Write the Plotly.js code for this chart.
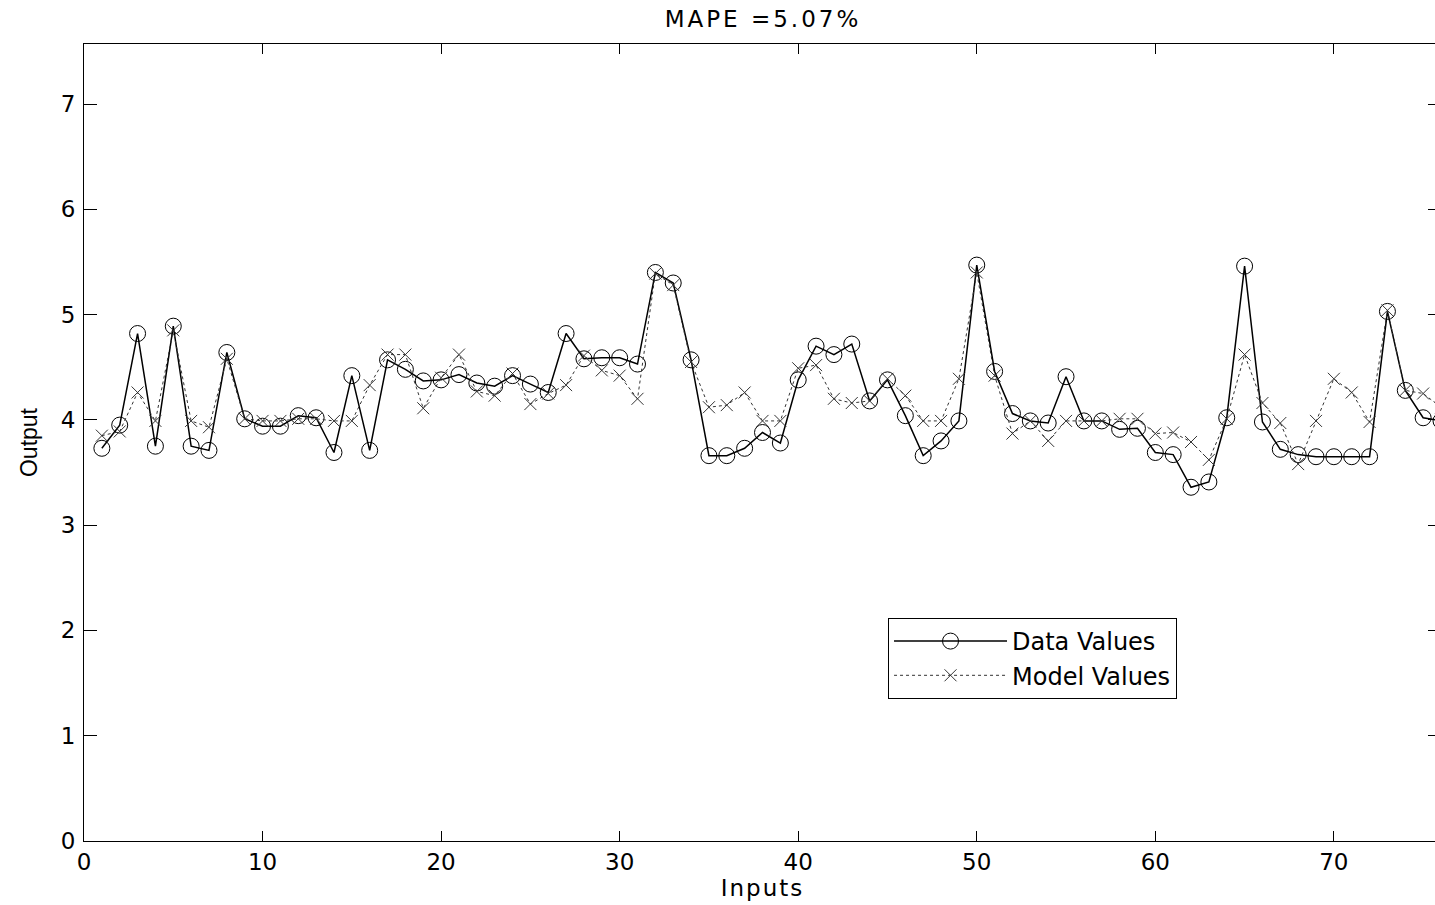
<!DOCTYPE html>
<html>
<head>
<meta charset="utf-8">
<script src="https://cdn.plot.ly/plotly-3.0.1.min.js"></script>
<style>
html,body{margin:0;padding:0;overflow:hidden;background:#fff;}
#chart{width:1445px;height:905px;}
#chart .gtitle{letter-spacing:3px;}
#chart .xtitle{letter-spacing:2px;}
</style>
</head>
<body>
<div id="chart"></div>
<script>
var inputs = [1,2,3,4,5,6,7,8,9,10,11,12,13,14,15,16,17,18,19,20,21,22,23,24,25,26,27,28,29,30,31,32,33,34,35,36,37,38,39,40,41,42,43,44,45,46,47,48,49,50,51,52,53,54,55,56,57,58,59,60,61,62,63,64,65,66,67,68,69,70,71,72,73,74,75,76];
var dataValues = [3.73,3.95,4.82,3.75,4.89,3.75,3.71,4.64,4.01,3.94,3.94,4.04,4.02,3.69,4.42,3.71,4.57,4.48,4.37,4.38,4.43,4.35,4.32,4.42,4.34,4.26,4.82,4.58,4.59,4.59,4.53,5.40,5.30,4.57,3.66,3.66,3.73,3.88,3.78,4.38,4.70,4.62,4.72,4.18,4.38,4.04,3.66,3.80,3.99,5.47,4.46,4.06,3.99,3.97,4.41,3.99,3.99,3.91,3.92,3.69,3.67,3.36,3.41,4.02,5.46,3.98,3.72,3.67,3.65,3.65,3.65,3.65,5.03,4.28,4.02,3.99];
var modelValues = [3.85,3.89,4.26,3.99,4.85,3.99,3.93,4.58,4.01,3.99,3.99,4.01,4.01,3.99,3.99,4.33,4.62,4.62,4.11,4.40,4.62,4.27,4.23,4.44,4.15,4.25,4.33,4.61,4.47,4.42,4.20,5.39,5.28,4.55,4.12,4.14,4.26,3.99,3.99,4.49,4.52,4.20,4.16,4.18,4.39,4.23,3.99,3.99,4.39,5.40,4.42,3.87,3.99,3.80,3.99,3.99,3.99,4.01,4.01,3.87,3.88,3.79,3.62,4.01,4.62,4.16,3.97,3.58,3.99,4.39,4.26,3.98,5.04,4.28,4.25,4.12];
var xTicks = [0,10,20,30,40,50,60,70];
var yTicks = [0,1,2,3,4,5,6,7];
var chartTitle = 'MAPE =5.07%';
var xTitle = 'Inputs';
var yTitle = 'Output';

var FONT = 'DejaVu Sans, Liberation Sans, Arial, sans-serif';
var FONT2 = 'Liberation Sans, Arial, sans-serif';

var traces = [
  {
    x: inputs, y: dataValues, name: 'Data Values', type: 'scatter', mode: 'lines+markers',
    line: {color: '#000', width: 1.5},
    marker: {symbol: 'circle-open', size: 16, color: '#000', line: {color: '#000', width: 1}},
    cliponaxis: true
  },
  {
    x: inputs, y: modelValues, name: 'Model Values', type: 'scatter', mode: 'lines+markers',
    line: {color: '#333', width: 1, dash: 'dot'},
    marker: {symbol: 'x-thin-open', size: 12, color: '#333', line: {color: '#333', width: 1}},
    cliponaxis: true
  }
];

var layout = {
  width: 1445, height: 905,
  margin: {l: 84, r: 4, t: 44, b: 64},
  paper_bgcolor: '#fff', plot_bgcolor: '#fff',
  font: {family: FONT, size: 23, color: '#000'},
  showlegend: true,
  title: {text: chartTitle, font: {family: FONT, size: 23, color: '#000'}, x: 0.528, xanchor: 'center', y: 0.979, yanchor: 'middle', xref: 'container', yref: 'container'},
  xaxis: {
    range: [0, 76], tickvals: xTicks, ticktext: xTicks.map(String),
    ticks: 'inside', ticklen: 10, tickwidth: 1, tickcolor: '#000',
    showline: true, linecolor: '#000', linewidth: 1, mirror: 'ticks',
    showgrid: false, zeroline: false,
    tickfont: {family: FONT, size: 23, color: '#000'},
    title: {text: xTitle, font: {family: FONT, size: 23, color: '#000'}, standoff: 4},
    automargin: false
  },
  yaxis: {
    range: [0, 7.57], tickvals: yTicks, ticktext: yTicks.map(String),
    ticks: 'inside', ticklen: 13, tickwidth: 1, tickcolor: '#000',
    showline: true, linecolor: '#000', linewidth: 1, mirror: 'ticks',
    showgrid: false, zeroline: false,
    ticklabelstandoff: 3,
    tickfont: {family: FONT, size: 23, color: '#000'},
    title: {text: yTitle, font: {family: FONT2, size: 23, color: '#000'}, standoff: 16},
    automargin: false
  },
  legend: {
    x: 0.5925, y: 0.2798, xanchor: 'left', yanchor: 'top',
    bgcolor: '#fff', bordercolor: '#000', borderwidth: 1,
    font: {family: FONT, size: 24, color: '#000'},
    itemwidth: 113, tracegroupgap: 0
  }
};

Plotly.newPlot('chart', traces, layout, {displayModeBar: false, staticPlot: true});
</script>
</body>
</html>
